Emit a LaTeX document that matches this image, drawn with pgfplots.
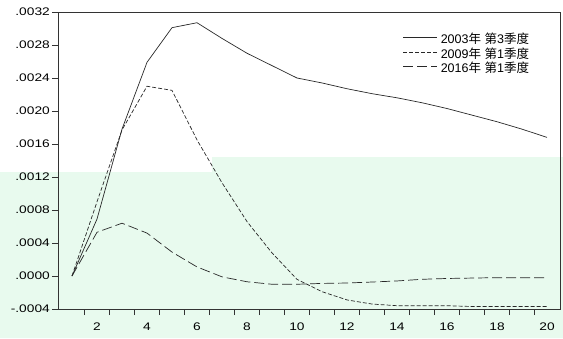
\documentclass[border=0pt]{standalone}
\usepackage{fontspec}
\setmainfont{Liberation Sans}
\newfontfamily\tickfont[FakeStretch=1.25]{Liberation Sans}
\newfontfamily\cjk{Noto Sans CJK SC}
\usepackage{pgfplots}
\pgfplotsset{compat=1.18}
\definecolor{mint}{RGB}{232,250,238}
\definecolor{linec}{RGB}{40,40,40}

\begin{document}
\begin{tikzpicture}
\useasboundingbox (-58pt,-29pt) rectangle (505pt,309pt);
\fill[mint] (-58pt,-29pt) -- (505pt,-29pt) -- (505pt,152pt) -- (154pt,152pt) -- (154pt,137pt) -- (-58pt,137pt) -- cycle;
\begin{axis}[
  at={(0pt,0pt)}, anchor=south west,
  scale only axis, width=502pt, height=297pt,
  xmin=0.44, xmax=20.52, ymin=-0.0004, ymax=0.0032,
  axis line style={black!80, line width=0.7pt},
  tick align=outside,
  xtick pos=bottom, ytick pos=left,
  xtick={2,4,6,8,10,12,14,16,18,20},
  xticklabels={2,4,6,8,10,12,14,16,18,20},
  minor xtick={1.5,2.5,3.5,4.5,5.5,6.5,7.5,8.5,9.5,10.5,11.5,12.5,13.5,14.5,15.5,16.5,17.5,18.5,19.5},
  major x tick style={draw=none},
  ytick={-0.0004,0,0.0004,0.0008,0.0012,0.0016,0.0020,0.0024,0.0028,0.0032},
  yticklabels={-.0004,.0000,.0004,.0008,.0012,.0016,.0020,.0024,.0028,.0032},
  scaled y ticks=false, scaled x ticks=false,
  tick style={black!80, line width=0.6pt},
  major tick length=6pt, minor tick length=6pt,
  tick label style={font=\tickfont\fontsize{11}{13}\selectfont},
  yticklabel style={inner sep=0pt, xshift=-2pt},
  xticklabel style={inner sep=0pt, yshift=-8pt},
  legend cell align=left,
  legend image code/.code={\draw[#1] (0pt,0.35em) -- (34pt,0.35em);},
  legend style={draw=none, fill=none, at={(axis description cs:0.687,0.927)}, anchor=north west,
    inner sep=0pt, row sep=0pt, font=\fontsize{12.5}{14}\selectfont,
    nodes={inner sep=0pt, text height=9.8pt, text depth=4.7pt},
    /tikz/every odd column/.append style={column sep=3pt}},
]
\addplot[linec, line width=0.7pt] coordinates {
(1,0) (2,0.00069) (3,0.00178) (4,0.00259) (5,0.00301) (6,0.00307) (7,0.00288)
(8,0.00270) (9,0.00255) (10,0.00240) (11,0.00234) (12,0.00227) (13,0.00221)
(14,0.00216) (15,0.00210) (16,0.00203) (17,0.00195) (18,0.00187) (19,0.00178) (20,0.00168)};
\addlegendentry{2003{\cjk 年} {\cjk 第}3{\cjk 季度}}
\addplot[linec, line width=0.7pt, dash pattern=on 4pt off 2pt] coordinates {
(1,0) (2,0.00090) (3,0.00177) (4,0.00230) (5,0.00225) (6,0.00165) (7,0.00113)
(8,0.00066) (9,0.00028) (10,-0.00004) (11,-0.00019) (12,-0.00029) (13,-0.00034)
(14,-0.00036) (15,-0.00036) (16,-0.00036) (17,-0.00037) (18,-0.00037) (19,-0.00037) (20,-0.00037)};
\addlegendentry{2009{\cjk 年} {\cjk 第}1{\cjk 季度}}
\addplot[linec, line width=0.7pt, dash pattern=on 10pt off 4pt] coordinates {
(1,0) (2,0.00053) (3,0.00064) (4,0.00052) (5,0.00029) (6,0.00011) (7,-0.00001)
(8,-0.00007) (9,-0.00010) (10,-0.00010) (11,-0.00009) (12,-0.000085) (13,-0.000073)
(14,-0.00006) (15,-0.00004) (16,-0.00003) (17,-0.000025) (18,-0.00002) (19,-0.00002) (20,-0.00002)};
\addlegendentry{2016{\cjk 年} {\cjk 第}1{\cjk 季度}}
\end{axis}
\end{tikzpicture}
\end{document}
